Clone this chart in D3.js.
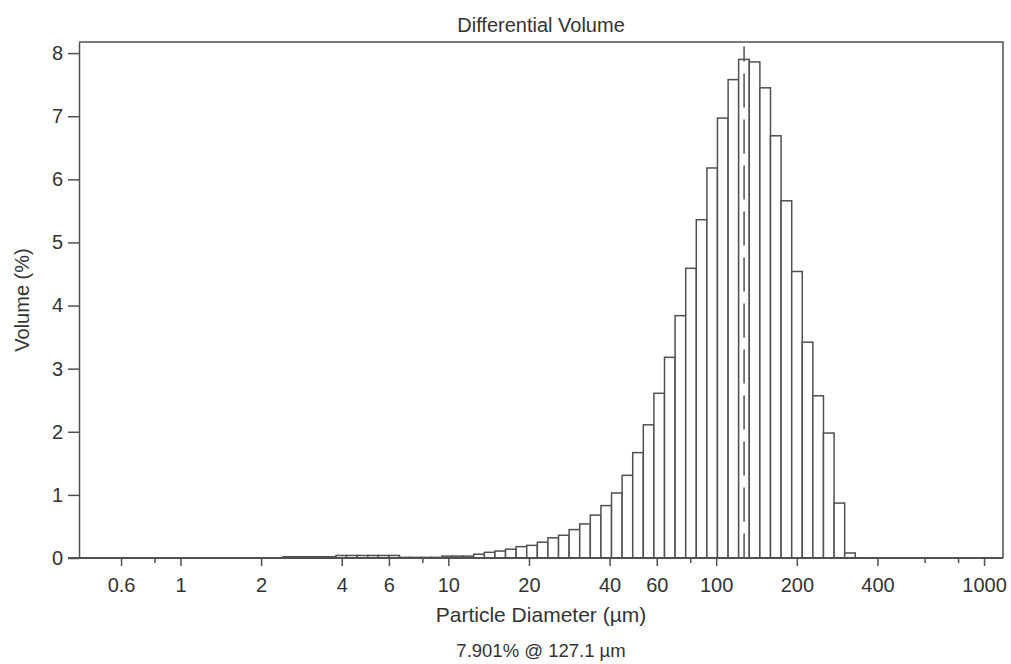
<!DOCTYPE html>
<html>
<head>
<meta charset="utf-8">
<script src="https://cdn.jsdelivr.net/npm/d3@7"></script>
<style>
  html, body { margin: 0; padding: 0; background: #ffffff; }
  #chart-container { width: 1011px; height: 664px; }
  text { font-family: "Liberation Sans", Arial, sans-serif; fill: #333333; }
</style>
</head>
<body>
<div id="chart-container"></div>
<script>
// Channel edges (µm)
const binEdges = [
    2.413, 2.644, 2.896, 3.172, 3.474, 3.806, 4.169, 4.566, 5.002, 5.479,
    6.001, 6.574, 7.201, 7.887, 8.640, 9.464, 10.37, 11.36, 12.44, 13.63,
    14.93, 16.35, 17.91, 19.62, 21.49, 23.54, 25.79, 28.25, 30.94, 33.89,
    37.13, 40.67, 44.55, 48.80, 53.45, 58.55, 64.13, 70.25, 76.95, 84.29,
    92.34, 101.1, 110.8, 121.3, 132.9, 145.6, 159.5, 174.7, 191.4, 209.6,
    229.6, 251.5, 275.5, 301.8, 330.6
];

// Differential volume (%) for each channel
const volumes = [
    0.02, 0.02, 0.02, 0.02, 0.02, 0.04, 0.04, 0.04, 0.04, 0.04,
    0.04, 0.01, 0.01, 0.01, 0.01, 0.03, 0.03, 0.03, 0.06, 0.09,
    0.11, 0.14, 0.18, 0.20, 0.25, 0.32, 0.36, 0.45, 0.54, 0.68,
    0.83, 1.03, 1.31, 1.67, 2.11, 2.61, 3.18, 3.84, 4.59, 5.36,
    6.18, 6.97, 7.58, 7.90, 7.86, 7.45, 6.69, 5.66, 4.54, 3.42,
    2.57, 1.98, 0.87, 0.08
];

// Axis ticks
const xTickLabels = [0.6, 1, 2, 4, 6, 10, 20, 40, 60, 100, 200, 400, 1000];
const xMinorTicks = [0.8, 8, 80, 600, 800];
const yTicks = [0, 1, 2, 3, 4, 5, 6, 7, 8];
const xDomain = [0.418, 1177];
const yDomain = [0, 8.176];

// Mode marker
const modeVolume = 7.901;
const modeSize = 127.1;

const margin = { top: 42, right: 8, bottom: 106, left: 79 };
const width = 1011 - margin.left - margin.right;
const height = 664 - margin.top - margin.bottom;

const svg = d3.select("#chart-container")
    .append("svg")
    .attr("width", 1011)
    .attr("height", 664);

const g = svg.append("g")
    .attr("transform", `translate(${margin.left},${margin.top})`);

const x = d3.scaleLog().domain(xDomain).range([0, width]);
const y = d3.scaleLinear().domain(yDomain).range([height, 0]);

const lineColor = "#505050";

// Bars
g.selectAll(".bar")
    .data(volumes)
    .enter()
    .append("rect")
    .attr("class", "bar")
    .attr("x", (d, i) => x(binEdges[i]))
    .attr("width", (d, i) => x(binEdges[i + 1]) - x(binEdges[i]))
    .attr("y", d => y(d))
    .attr("height", d => y(0) - y(d))
    .attr("fill", "#ffffff")
    .attr("stroke", lineColor)
    .attr("stroke-width", 1.5);

// Mode line (dashed)
g.append("line")
    .attr("x1", x(modeSize))
    .attr("x2", x(modeSize))
    .attr("y1", 4.5)
    .attr("y2", y(0))
    .attr("stroke", lineColor)
    .attr("stroke-width", 1.5)
    .attr("stroke-dasharray", "34,12")
    .attr("stroke-dashoffset", 19);

// Frame: top and right
g.append("path")
    .attr("d", `M0,0H${width}V${height}`)
    .attr("fill", "none")
    .attr("stroke", lineColor)
    .attr("stroke-width", 1.5);

// X axis - labelled ticks
const xAxis = g.append("g")
    .attr("transform", `translate(0,${height})`)
    .call(d3.axisBottom(x).tickValues(xTickLabels).tickFormat(d => d).tickSize(8).tickSizeOuter(0))
    .call(a => a.select(".domain").remove());
xAxis.selectAll(".tick line").attr("stroke", lineColor).attr("stroke-width", 1.5);
xAxis.selectAll("text")
    .attr("dy", null)
    .attr("y", 34)
    .style("font-size", "20px");

// X axis - minor ticks
g.append("g")
    .attr("transform", `translate(0,${height})`)
    .call(d3.axisBottom(x).tickValues(xMinorTicks).tickFormat("").tickSize(5))
    .call(a => a.select(".domain").remove())
    .selectAll(".tick line").attr("stroke", lineColor).attr("stroke-width", 1.5);

// X axis line (extends under the 0 tick)
g.append("line")
    .attr("x1", -11).attr("x2", width)
    .attr("y1", height).attr("y2", height)
    .attr("stroke", lineColor)
    .attr("stroke-width", 2);

// Y axis
const yAxis = g.append("g")
    .call(d3.axisLeft(y).tickValues(yTicks).tickSize(11).tickSizeOuter(0))
    .call(a => a.select(".domain").attr("stroke", lineColor).attr("stroke-width", 1.5));
yAxis.selectAll(".tick line").attr("stroke", lineColor).attr("stroke-width", 1.5);
yAxis.selectAll("text")
    .attr("x", -16)
    .style("font-size", "20px");

// Title
svg.append("text")
    .attr("x", margin.left + width / 2)
    .attr("y", 32)
    .attr("text-anchor", "middle")
    .style("font-size", "20px")
    .text("Differential Volume");

// Axis titles
svg.append("text")
    .attr("x", margin.left + width / 2)
    .attr("y", 622)
    .attr("text-anchor", "middle")
    .style("font-size", "21px")
    .text("Particle Diameter (µm)");

svg.append("text")
    .attr("transform", `translate(29,${margin.top + height / 2}) rotate(-90)`)
    .attr("text-anchor", "middle")
    .style("font-size", "20px")
    .text("Volume (%)");

// Mode annotation
svg.append("text")
    .attr("x", margin.left + width / 2)
    .attr("y", 657)
    .attr("text-anchor", "middle")
    .style("font-size", "18.5px")
    .text(`${modeVolume}% @ ${modeSize} µm`);
</script>
</body>
</html>
